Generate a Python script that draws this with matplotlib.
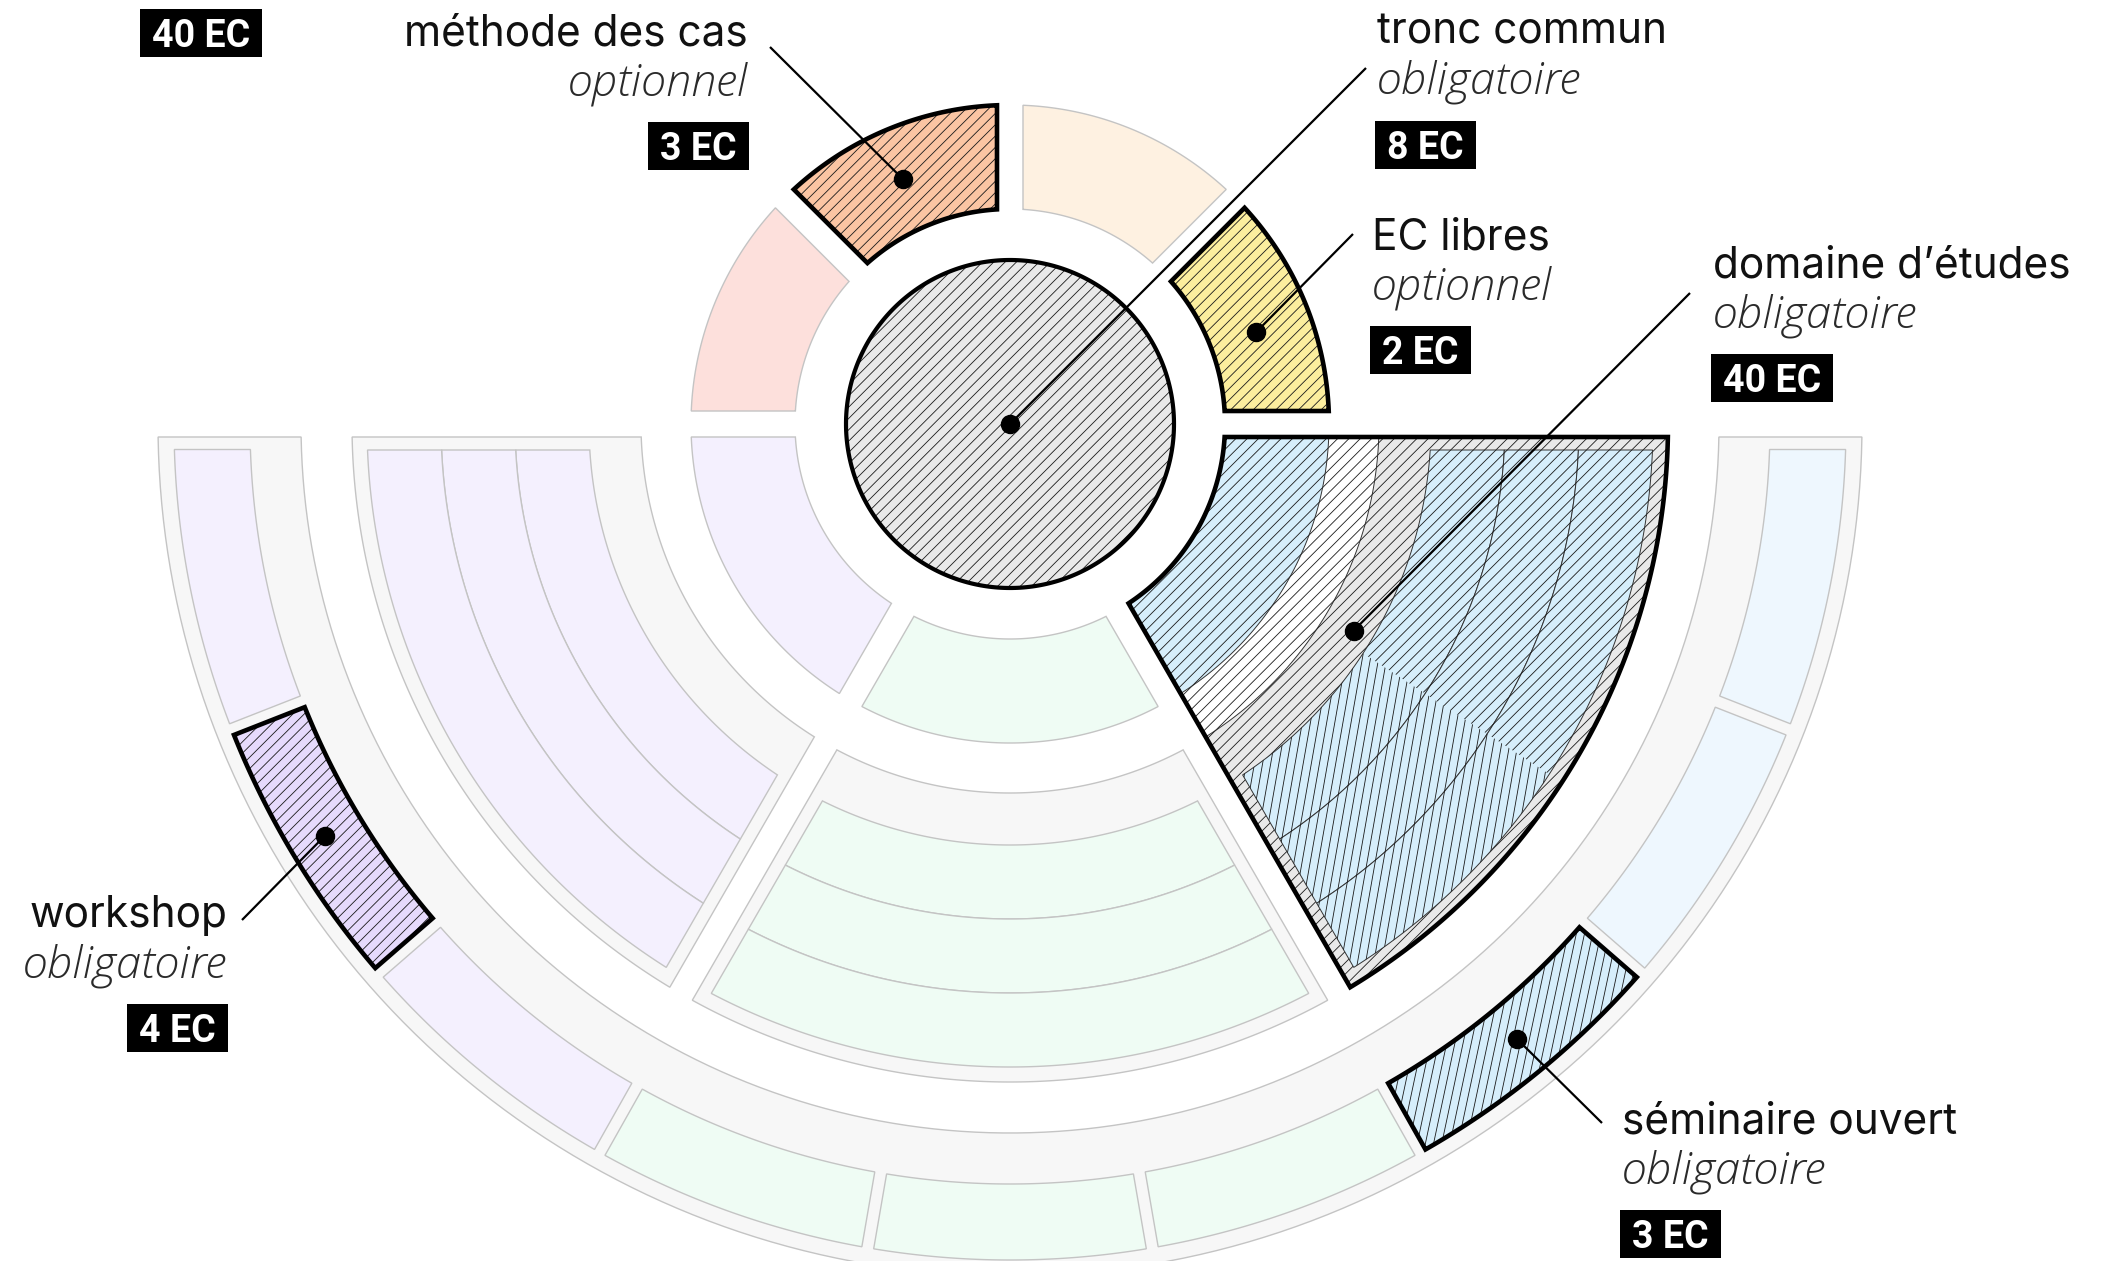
import numpy as np
import matplotlib.pyplot as plt
from matplotlib.patches import Polygon, Rectangle
from matplotlib.collections import LineCollection

plt.rcParams['font.family'] = ['Inter', 'DejaVu Sans']

# --- data ---
# inner ring, upper half: four 45° blocks from left (180°) to right (0°)
ring1_top_colors = ['#fde0dc', '#fbc5a3', '#fef1e1', '#fcee9e']
ring1_top_hilite = [False, True, False, True]
# lower half: three 60° sections (left, bottom, right)
section_colors = ['#f4f0fe', '#effcf4', '#d6eefb']
section_hilite = [False, False, True]
n_strips = 3
# outer ring: nine blocks from 180° to 360°
ring3_colors = ['#f4f0fe', '#e6dafc', '#f4f0fe', '#effcf4', '#effcf4',
                '#effcf4', '#d6eefb', '#eef7fe', '#eef7fe']
ring3_hilite = [False, True, False, False, False, False, True, False, False]

labels = ['méthode des cas', 'tronc commun', 'EC libres',
          'domaine d’études', 'workshop', 'séminaire ouvert']
status = ['optionnel', 'obligatoire', 'optionnel',
          'obligatoire', 'obligatoire', 'obligatoire']
credits = [3, 8, 2, 40, 4, 3]
extra_badge = 40

# --- layout (pixels) ---
W, H = 2105, 1261
CX, CY = 1010, 424
R_CORE = 164
R1 = (215, 319)
R2 = (369, 658)
R2S = (421, 643)
R3 = (709, 852)
R3S = (760, 836)
PAD = 13
EDGE = '#c4c4c4'

fig = plt.figure(figsize=(W / 100, H / 100), dpi=100)
ax = fig.add_axes([0, 0, 1, 1])
ax.set_xlim(0, W)
ax.set_ylim(H, 0)
ax.axis('off')


def sector(a0, a1, r0, r1, d0=PAD, d1=PAD, n=160):
    # annular sector whose straight sides are offset d0/d1 px from the radial lines
    def ends(r):
        return a0 + np.degrees(np.arcsin(d0 / r)), a1 - np.degrees(np.arcsin(d1 / r))
    s, e = ends(r1)
    outer = np.radians(np.linspace(s, e, n))
    s, e = ends(r0)
    inner = np.radians(np.linspace(e, s, n))
    xs = np.concatenate([CX + r1 * np.cos(outer), CX + r0 * np.cos(inner)])
    ys = np.concatenate([CY - r1 * np.sin(outer), CY - r0 * np.sin(inner)])
    return np.column_stack([xs, ys])


def circle_xy(r, n=360):
    t = np.linspace(0, 2 * np.pi, n)
    return np.column_stack([CX + r * np.cos(t), CY - r * np.sin(t)])


def add_poly(xy, fc, ec=EDGE, lw=1.0, z=2):
    p = Polygon(xy, closed=True, fc=fc, ec=ec, lw=lw, zorder=z, joinstyle='miter')
    ax.add_patch(p)
    return p


def hatch(xy, angle, z, spacing=8.0, lw=0.6, color='#1a1a1a'):
    clip = Polygon(xy, closed=True, transform=ax.transData)
    t = np.radians(angle)
    d = np.array([np.cos(t), -np.sin(t)])
    nrm = np.array([np.sin(t), np.cos(t)])
    pn, pd = xy @ nrm, xy @ d
    ks = np.arange(np.floor(pn.min() / spacing), np.ceil(pn.max() / spacing) + 1) * spacing
    s0, s1 = pd.min() - 5, pd.max() + 5
    segs = [[k * nrm + s0 * d, k * nrm + s1 * d] for k in ks]
    lc = LineCollection(segs, colors=color, linewidths=lw, zorder=z)
    ax.add_collection(lc)
    lc.set_clip_path(clip)


def border(xy, lw=3.3, z=9):
    ax.add_patch(Polygon(xy, closed=True, fill=False, ec='black', lw=lw,
                         zorder=z, joinstyle='miter'))


# core circle (tronc commun)
core = circle_xy(R_CORE)
add_poly(core, '#e9e9e9', ec='none', z=3)
hatch(core, 45, 3.1)
border(core, lw=3.0)

# inner ring, upper half
for i, col in enumerate(ring1_top_colors):
    a1 = 180 - 45 * i
    xy = sector(a1 - 45, a1, *R1)
    if ring1_top_hilite[i]:
        add_poly(xy, col, ec='none', z=3)
        hatch(xy, 45, 3.1)
        border(xy)
    else:
        add_poly(xy, col, z=2)

# lower half sections
for i, col in enumerate(section_colors):
    a0, a1 = 180 + 60 * i, 240 + 60 * i
    step = (R2S[1] - R2S[0]) / n_strips
    radii = [R2S[0] + step * k for k in range(n_strips + 1)]
    if not section_hilite[i]:
        add_poly(sector(a0, a1, *R1), col)
        add_poly(sector(a0, a1, *R2), '#f7f7f7')
        for k in range(n_strips):
            add_poly(sector(a0, a1, radii[k], radii[k + 1], 2 * PAD, 2 * PAD), col, z=2.5)
    else:
        outline = sector(a0, a1, R1[0], R2[1])
        add_poly(outline, 'white', ec='none', z=3)
        hatch(outline, 45, 3.1)
        inner = sector(a0, a1, *R1)
        add_poly(inner, col, ec='#333333', lw=0.7, z=3.2)
        hatch(inner, 45, 3.3)
        cont = sector(a0, a1, *R2)
        add_poly(cont, '#e9e9e9', ec='#333333', lw=0.7, z=3.2)
        hatch(cont, 45, 3.3)
        for k in range(n_strips):
            add_poly(sector(a0, a1, radii[k], radii[k + 1], 2 * PAD, 2 * PAD),
                     col, ec='#333333', lw=0.7, z=3.5)
        split = a0 + 27
        hatch(sector(split, a1, R2S[0], R2S[1], 0, 2 * PAD), 45, 3.6)
        hatch(sector(a0, split, R2S[0], R2S[1], 2 * PAD, 0), 80, 3.6)
        border(outline)

# outer ring
add_poly(sector(180, 360, *R3), '#f7f7f7')
rm = 0.5 * (R3S[0] + R3S[1])
end_pad = 2 * PAD - 0.5
a_start = 180 + np.degrees(np.arcsin(end_pad / rm))
a_end = 360 - np.degrees(np.arcsin(end_pad / rm))
bounds = np.linspace(a_start, a_end, len(ring3_colors) + 1)
bounds[0], bounds[-1] = 180, 360
for i, col in enumerate(ring3_colors):
    d0 = end_pad if i == 0 else 6
    d1 = end_pad if i == len(ring3_colors) - 1 else 6
    xy = sector(bounds[i], bounds[i + 1], R3S[0], R3S[1], d0, d1)
    if ring3_hilite[i]:
        add_poly(xy, col, ec='none', z=3)
        hatch(xy, 45 if i < 4 else 78, 3.1)
        border(xy)
    else:
        add_poly(xy, col, z=2.5)

# --- labels ---
# (anchor x, baseline y, ha, leader end x, leader end y, dot angle, dot radius)
label_layout = [
    (748, 45, 'right', 770, 47, 113.6, 267),
    (1377, 44, 'left', 1366, 68, 0, 0),
    (1372, 249, 'left', 1353, 234, 20.5, 263),
    (1713, 277, 'left', 1690, 293, 329, 401),
    (227, 927, 'right', 242, 920, 211, 799),
    (1622, 1133, 'left', 1602, 1123, 309.5, 797),
]

renderer = fig.canvas.get_renderer()


def badge(x, top, text, ha):
    t = ax.text(0, 0, text, fontsize=27, fontweight='bold', color='white',
                family=['Roboto', 'DejaVu Sans'],
                ha='center', va='baseline', zorder=21)
    w = t.get_window_extent(renderer).width + 24
    left = x - 2 if ha == 'left' else x + 1 - w
    ax.add_patch(Rectangle((left, top), w, 48, fc='black', ec='none', zorder=20))
    t.set_position((left + w / 2, top + 38))


for (x, y, ha, lx, ly, da, dr), name, st, ec in zip(label_layout, labels, status, credits):
    ax.text(x, y, name, fontsize=30.5, color='#111111', ha=ha, va='baseline', zorder=21)
    ax.text(x, y + 50, st, fontsize=32.5, fontstyle='italic', fontweight='light',
            family=['Open Sans', 'DejaVu Sans'],
            color='#2a2a2a', ha=ha, va='baseline', zorder=21)
    badge(x, y + 77, f'{ec} EC', ha)
    px = CX + dr * np.cos(np.radians(da))
    py = CY - dr * np.sin(np.radians(da))
    ax.plot([lx, px], [ly, py], color='black', lw=1.6, zorder=15, solid_capstyle='butt')
    ax.plot(px, py, 'o', color='black', ms=13, zorder=16)

badge(142, 9, f'{extra_badge} EC', 'left')

fig.savefig('out.png', dpi=100)
